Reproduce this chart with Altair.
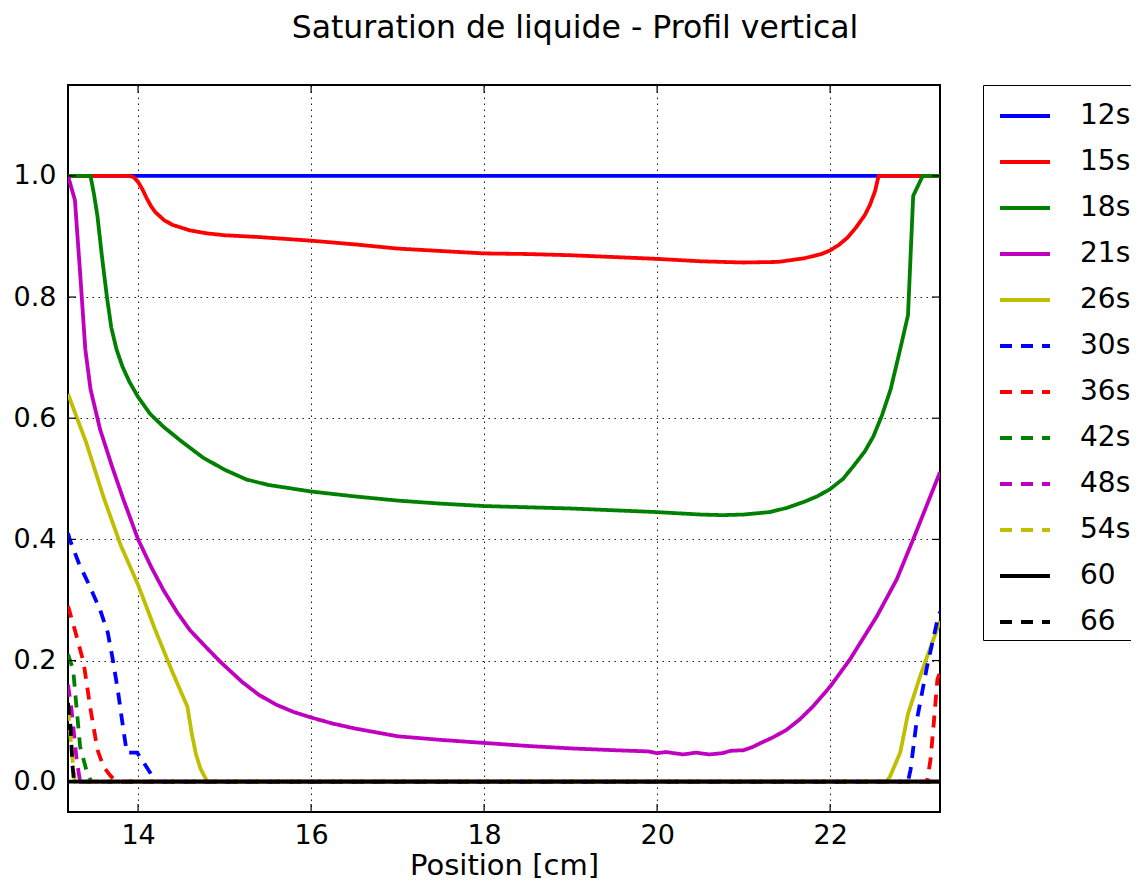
import altair as alt
import pandas as pd

series_names = ["12s", "15s", "18s", "21s", "26s", "30s", "36s", "42s", "48s", "54s", "60", "66"]
series_colors = ["#0000ff", "#ff0000", "#008000", "#bf00bf", "#bfbf00",
                 "#0000ff", "#ff0000", "#008000", "#bf00bf", "#bfbf00",
                 "#000000", "#000000"]
solid = [1, 0]
dashed = [12, 9]
series_dashes = [solid, solid, solid, solid, solid,
                 dashed, dashed, dashed, dashed, dashed,
                 solid, dashed]

x_ticks = [14, 16, 18, 20, 22]
y_ticks = [0.0, 0.2, 0.4, 0.6, 0.8, 1.0]

x_12s = [13.19, 23.27]
y_12s = [1.0, 1.0]

x_15s = [13.19, 13.9, 13.95, 14.0, 14.05, 14.1, 14.15, 14.2, 14.3, 14.4, 14.6, 14.8, 15.0,
         15.4, 16.0, 16.5, 17.0, 17.5, 18.0, 18.5, 19.0, 19.5, 20.0, 20.5, 21.0, 21.4, 21.7,
         21.9, 22.0, 22.1, 22.2, 22.3, 22.4, 22.46, 22.52, 22.56, 23.27]
y_15s = [1.0, 1.0, 0.998, 0.99, 0.978, 0.963, 0.95, 0.94, 0.927, 0.919, 0.91, 0.905, 0.902,
         0.899, 0.893, 0.887, 0.88, 0.876, 0.872, 0.871, 0.869, 0.866, 0.863, 0.859, 0.857,
         0.858, 0.864, 0.871, 0.877, 0.886, 0.898, 0.915, 0.935, 0.952, 0.975, 1.0, 1.0]

x_18s = [13.19, 13.45, 13.49, 13.53, 13.58, 13.64, 13.69, 13.75, 13.82, 13.9, 14.0, 14.14,
         14.3, 14.5, 14.75, 15.0, 15.25, 15.5, 16.0, 16.5, 17.0, 17.5, 18.0, 18.5, 19.0,
         19.5, 20.0, 20.5, 20.75, 21.0, 21.3, 21.5, 21.7, 21.85, 22.0, 22.15, 22.27, 22.4,
         22.5, 22.6, 22.7, 22.81, 22.9, 22.96, 23.07, 23.27]
y_18s = [1.0, 1.0, 0.97, 0.934, 0.87, 0.80, 0.75, 0.714, 0.685, 0.66, 0.635, 0.607,
         0.585, 0.562, 0.535, 0.515, 0.499, 0.49, 0.479, 0.471, 0.464, 0.459, 0.455, 0.453,
         0.451, 0.448, 0.445, 0.441, 0.44, 0.441, 0.445, 0.452, 0.462, 0.471, 0.483, 0.5,
         0.521, 0.545, 0.57, 0.605, 0.648, 0.714, 0.77, 0.967, 1.0, 1.0]

x_21s = [13.19, 13.27, 13.33, 13.39, 13.45, 13.56, 13.7, 13.83, 14.0, 14.15, 14.29, 14.45,
         14.6, 14.8, 14.95, 15.2, 15.4, 15.6, 15.8, 16.0, 16.25, 16.5, 17.0, 17.5, 18.0,
         18.5, 19.0, 19.5, 19.9, 20.0, 20.1, 20.3, 20.45, 20.6, 20.75, 20.85, 21.0, 21.1,
         21.2, 21.35, 21.5, 21.65, 21.8, 22.0, 22.23, 22.54, 22.77, 22.96, 23.27]
y_21s = [1.0, 0.96, 0.84, 0.714, 0.648, 0.582, 0.52, 0.466, 0.40, 0.355, 0.317, 0.28,
         0.25, 0.22, 0.198, 0.165, 0.143, 0.127, 0.115, 0.106, 0.096, 0.088, 0.075, 0.069,
         0.064, 0.059, 0.055, 0.052, 0.050, 0.047, 0.049, 0.045, 0.048, 0.045, 0.047, 0.051,
         0.052, 0.057, 0.064, 0.074, 0.086, 0.103, 0.124, 0.157, 0.202, 0.273, 0.334, 0.40,
         0.511]

x_26s = [13.19, 13.4, 13.6, 13.8, 14.0, 14.2, 14.4, 14.57, 14.62, 14.67, 14.72, 14.8,
         22.65, 22.69, 22.81, 22.9, 23.04, 23.1, 23.27]
y_26s = [0.64, 0.56, 0.47, 0.39, 0.325, 0.25, 0.18, 0.124, 0.08, 0.045, 0.022, 0.0,
         0.0, 0.008, 0.048, 0.112, 0.174, 0.198, 0.265]

x_30s = [13.19, 13.21, 13.32, 13.44, 13.56, 13.65, 13.71, 13.77, 13.83, 13.87, 13.99,
         14.14, 14.2, 22.9, 22.93, 23.0, 23.12, 23.25, 23.27]
y_30s = [0.41, 0.40, 0.359, 0.323, 0.284, 0.246, 0.20, 0.147, 0.086, 0.048, 0.048,
         0.015, 0.0, 0.0, 0.02, 0.10, 0.19, 0.273, 0.28]

x_36s = [13.19, 13.27, 13.37, 13.45, 13.53, 13.6, 13.68, 13.75, 23.12, 23.16, 23.2,
         23.24, 23.27]
y_36s = [0.29, 0.25, 0.197, 0.12, 0.053, 0.025, 0.01, 0.0, 0.0, 0.036, 0.10, 0.169, 0.18]

x_42s = [13.19, 13.25, 13.28, 13.33, 13.41, 13.46, 23.27]
y_42s = [0.21, 0.185, 0.136, 0.058, 0.015, 0.0, 0.0]

x_48s = [13.19, 13.23, 13.29, 13.33, 23.27]
y_48s = [0.16, 0.12, 0.036, 0.0, 0.0]

x_54s = [13.19, 13.24, 13.27, 23.27]
y_54s = [0.12, 0.04, 0.0, 0.0]

x_60 = [13.19, 23.27]
y_60 = [0.0, 0.0]

x_66 = [13.19, 13.22, 13.24, 13.26, 23.27]
y_66 = [0.13, 0.09, 0.03, 0.0, 0.0]

all_x = [x_12s, x_15s, x_18s, x_21s, x_26s, x_30s, x_36s, x_42s, x_48s, x_54s, x_60, x_66]
all_y = [y_12s, y_15s, y_18s, y_21s, y_26s, y_30s, y_36s, y_42s, y_48s, y_54s, y_60, y_66]

rows = []
for k, (name, xs, ys) in enumerate(zip(series_names, all_x, all_y)):
    for i, (xv, yv) in enumerate(zip(xs, ys)):
        rows.append({"series": name, "x": xv, "y": yv, "k": k, "i": i})
df = pd.DataFrame(rows)

W, H = 872, 727
x_scale = alt.Scale(domain=[13.19, 23.27], nice=False, zero=False)
y_scale = alt.Scale(domain=[-0.05, 1.15], nice=False, zero=False)


def x_axis():
    return alt.Axis(values=x_ticks, title="Position [cm]", format="d")


def y_axis():
    return alt.Axis(values=y_ticks, format=".1f", title="")


lines = alt.Chart(df).mark_line(strokeWidth=3.8, clip=True).encode(
    x=alt.X("x:Q", scale=x_scale, axis=x_axis(), title="Position [cm]"),
    y=alt.Y("y:Q", scale=y_scale, axis=y_axis(), title=""),
    color=alt.Color("series:N", title=None,
                    scale=alt.Scale(domain=series_names, range=series_colors),
                    legend=alt.Legend(orient="none", legendX=915, legendY=0)),
    strokeDash=alt.StrokeDash("series:N", title=None,
                              scale=alt.Scale(domain=series_names, range=series_dashes),
                              legend=alt.Legend(orient="none", legendX=915, legendY=0)),
    order=alt.Order("i:Q"),
)

xt = pd.DataFrame({"x": x_ticks})
yt = pd.DataFrame({"y": y_ticks})

xtick_b = alt.Chart(xt).mark_rule(color="black", strokeWidth=1.2).encode(
    x=alt.X("x:Q", scale=x_scale, axis=x_axis(), title="Position [cm]"),
    y=alt.value(H), y2=alt.value(H - 8))
xtick_t = alt.Chart(xt).mark_rule(color="black", strokeWidth=1.2).encode(
    x=alt.X("x:Q", scale=x_scale, axis=x_axis(), title="Position [cm]"),
    y=alt.value(0), y2=alt.value(8))
ytick_l = alt.Chart(yt).mark_rule(color="black", strokeWidth=1.2).encode(
    y=alt.Y("y:Q", scale=y_scale, axis=y_axis(), title=""),
    x=alt.value(0), x2=alt.value(8))
ytick_r = alt.Chart(yt).mark_rule(color="black", strokeWidth=1.2).encode(
    y=alt.Y("y:Q", scale=y_scale, axis=y_axis(), title=""),
    x=alt.value(W), x2=alt.value(W - 8))

chart = alt.layer(lines, xtick_b, xtick_t, ytick_l, ytick_r).properties(
    width=W, height=H,
    title=alt.TitleParams("Saturation de liquide - Profil vertical", fontSize=31.5,
                          font="DejaVu Sans", fontWeight="normal", color="black",
                          anchor="middle", dx=71, offset=40),
    autosize=alt.AutoSizeParams(type="none"),
    padding={"left": 60, "top": 77, "right": 191, "bottom": 69},
).configure_view(
    stroke="black", strokeWidth=2
).configure_axis(
    grid=True, gridColor="black", gridDash=[1.5, 4.5], gridWidth=1, gridOpacity=0.9,
    domain=False, ticks=False, labelFont="DejaVu Sans", labelFontSize=27,
    labelColor="black", titleFont="DejaVu Sans", titleFontSize=29,
    titleFontWeight="normal", titleColor="black",
).configure_axisX(
    labelPadding=10, titlePadding=3,
).configure_axisY(
    labelPadding=12,
).configure_legend(
    symbolType="stroke", symbolSize=2500, symbolStrokeWidth=3.8, labelFontSize=28,
    labelFont="DejaVu Sans", labelColor="black", labelOffset=28, padding=4,
    strokeColor="black", symbolOffset=11, rowPadding=5, fillColor="white",
)

chart.save("out.html", embed_options={"renderer": "svg", "actions": False})
